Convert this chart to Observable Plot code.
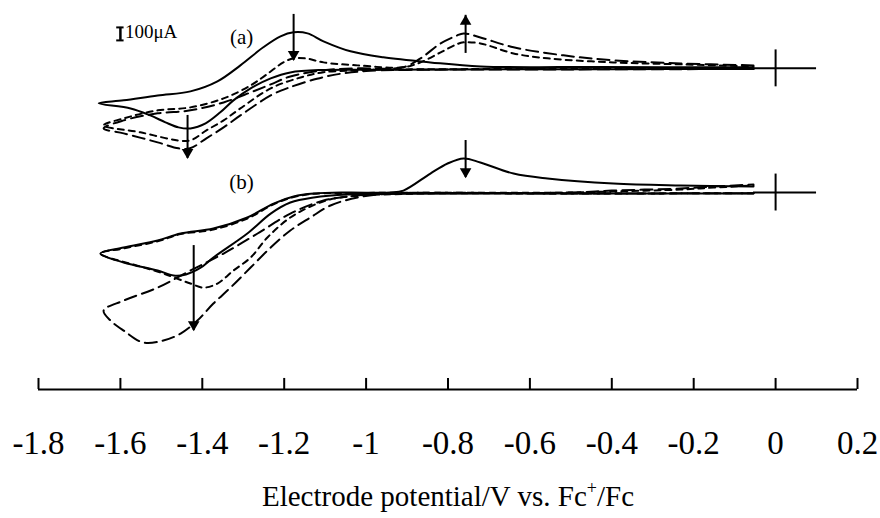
<!DOCTYPE html>
<html>
<head>
<meta charset="utf-8">
<script src="https://cdn.jsdelivr.net/npm/d3@7"></script>
<script src="https://cdn.jsdelivr.net/npm/@observablehq/plot@0.6"></script>
<style>
  body { margin: 0; background: #fff; }
  #chart { width: 880px; height: 518px; }
</style>
</head>
<body>
<div id="chart"></div>
<script>
// ---------- axis / labels ----------
const xTicks = [-1.8, -1.6, -1.4, -1.2, -1.0, -0.8, -0.6, -0.4, -0.2, 0, 0.2];
const xTickLabels = ["-1.8", "-1.6", "-1.4", "-1.2", "-1", "-0.8", "-0.6", "-0.4", "-0.2", "0", "0.2"];
const xTitleParts = ["Electrode potential/V vs. Fc", "+", "/Fc"];
const panelNames = ["(a)", "(b)"];
const panelOffset = { a: 955, b: 0 };   // vertical offset of trace (a), µA
const scaleBarLabel = "100μA";
const scaleBarV = -1.6;
const scaleBarI = [1170, 1270];

// ---------- (a) solid ----------
const aSolidV = [-0.054,-0.4,-0.8,-1.0,-1.104,-1.185,-1.233,-1.282,-1.324,-1.356,-1.392,-1.429,-1.458,-1.49,-1.527,-1.575,-1.653,
                 -1.592,-1.509,-1.429,-1.363,-1.307,-1.251,-1.209,-1.177,-1.143,-1.104,-1.038,-0.958,-0.843,-0.72,-0.43,-0.054];
const aSolidI = [-5,-6,-8,-10,-12,-31,-77,-154,-246,-338,-423,-462,-454,-415,-362,-308,-269,
                 -246,-208,-177,-100,23,162,246,277,269,208,131,85,46,15,10,8];
// ---------- (a) short dash ----------
const aShortV = [-0.054,-0.5,-0.9,-1.021,-1.104,-1.16,-1.233,-1.307,-1.348,-1.39,-1.429,-1.46,-1.551,-1.641,
                 -1.592,-1.509,-1.429,-1.348,-1.282,-1.246,-1.202,-1.177,-1.148,-1.104,-1.021,-0.91,-0.867,-0.818,-0.779,-0.762,-0.721,-0.64,-0.557,-0.396,-0.232,-0.054];
const aShortI = [-3,-5,-8,-15,-30,-70,-154,-308,-400,-477,-554,-554,-492,-439,
                 -385,-323,-300,-231,-131,-54,46,77,77,46,23,8,46,123,185,200,192,115,77,46,31,15];
// ---------- (a) long dash ----------
const aLongV = [-0.054,-0.5,-0.9,-1.0,-1.06,-1.12,-1.19,-1.233,-1.307,-1.348,-1.39,-1.43,-1.458,-1.509,-1.592,-1.641,
                -1.592,-1.509,-1.429,-1.348,-1.282,-1.233,-1.185,-1.104,-1.021,-0.91,-0.867,-0.818,-0.78,-0.762,-0.721,-0.64,-0.518,-0.396,-0.232,-0.054];
const aLongI = [-5,-8,-12,-20,-40,-80,-150,-208,-362,-454,-538,-615,-615,-569,-500,-462,
                -400,-346,-323,-262,-185,-123,-62,-15,0,8,77,192,250,269,238,162,100,62,38,23];

// ---------- (b) solid ----------
const bSolidV = [-0.054,-0.5,-0.9,-1.045,-1.128,-1.185,-1.233,-1.29,-1.373,-1.405,-1.44,-1.47,-1.509,-1.592,-1.649,
                 -1.592,-1.509,-1.453,-1.373,-1.29,-1.226,-1.177,-1.128,-1.045,-0.94,-0.909,-0.843,-0.801,-0.762,-0.721,-0.64,-0.557,-0.396,-0.232,-0.054];
const bSolidI = [-8,-8,-10,-15,-38,-77,-162,-315,-500,-580,-630,-638,-600,-538,-469,
                 -423,-369,-315,-277,-192,-85,-31,-8,0,0,15,146,223,262,231,146,108,69,54,46];
// ---------- (b) short dash ----------
const bShortV = [-0.054,-0.5,-0.9,-1.063,-1.119,-1.185,-1.241,-1.282,-1.324,-1.363,-1.397,-1.429,-1.495,-1.55,-1.649,
                 -1.592,-1.509,-1.453,-1.373,-1.29,-1.226,-1.177,-1.128,-1.0,-0.5,-0.4,-0.232,-0.152,-0.054];
const bShortI = [-5,-8,-10,-38,-85,-192,-346,-500,-600,-700,-731,-700,-623,-570,-469,
                 -430,-375,-320,-285,-200,-90,-35,-10,-3,0,8,23,38,54];
// ---------- (b) long dash ----------
const bLongV = [-0.054,-0.5,-0.94,-1.021,-1.087,-1.136,-1.185,-1.233,-1.282,-1.331,-1.373,-1.412,-1.453,-1.495,-1.544,-1.592,-1.624,-1.641,
                -1.592,-1.509,-1.429,-1.348,-1.265,-1.185,-1.104,-1.021,-0.94,-0.5,-0.4,-0.232,-0.152,-0.054];
const bLongI = [-5,-8,-8,-38,-100,-192,-292,-423,-577,-731,-854,-985,-1085,-1138,-1154,-1062,-985,-908,
                -831,-731,-600,-469,-315,-162,-62,-23,-8,0,15,31,46,62];

// ---------- arrows ----------
const arrowPanel = ["a", "a", "a", "b", "b"];
const arrowV     = [-1.177, -1.436, -0.757, -1.421, -0.757];
const arrowFrom  = [415, -362, 115, -408, 400];
const arrowTo    = [62, -692, 408, -1062, 115];

// ---------- marker crosses at 0 V ----------
const crossPanel = ["a", "b"];
const crossHalf = 142;
const crossX = [-0.054, 0.1];

// ---------- build tables ----------
function series(panel, style, V, I) {
  return V.map((v, i) => ({ panel, style, key: panel + style, V: v, y: I[i] + panelOffset[panel] }));
}
const rows = [
  ...series("a", "solid", aSolidV, aSolidI),
  ...series("a", "short", aShortV, aShortI),
  ...series("a", "long", aLongV, aLongI),
  ...series("b", "solid", bSolidV, bSolidI),
  ...series("b", "short", bShortV, bShortI),
  ...series("b", "long", bLongV, bLongI)
];
const arrows = arrowV.map((v, i) => ({
  V: v,
  y1: arrowFrom[i] + panelOffset[arrowPanel[i]],
  y2: arrowTo[i] + panelOffset[arrowPanel[i]],
  up: arrowTo[i] > arrowFrom[i]
}));
const crosses = crossPanel.map(p => ({ y: panelOffset[p] }));

const yMin = -1515, yMax = 1477;
const lineW = 2;

const svg = Plot.plot({
  width: 880,
  height: 518,
  marginLeft: 38,
  marginRight: 23,
  marginTop: 0,
  marginBottom: 129,
  x: { domain: [-1.8, 0.2], axis: null },
  y: { domain: [yMin, yMax], axis: null },
  style: { fontFamily: "'Liberation Serif', 'Times New Roman', serif", background: "#fff", color: "#000" },
  marks: [
    // bottom axis line and upward ticks
    Plot.ruleY([yMin], { x1: -1.8, x2: 0.2, stroke: "#000", strokeWidth: 2 }),
    Plot.ruleX(xTicks, { x: d => d, y1: yMin, y2: yMin + 85, stroke: "#000", strokeWidth: 2 }),
    Plot.text(xTicks, { x: d => d, text: (d, i) => xTickLabels[i], frameAnchor: "bottom", dy: 54, fontSize: 33, lineAnchor: "middle", fill: "#000" }),
    Plot.text([xTitleParts.join("")], { x: -0.8, frameAnchor: "bottom", dy: 107, fontSize: 29, lineAnchor: "middle", fill: "#000" }),
    // crosses at 0 V
    Plot.ruleY(crosses, { y: "y", x1: crossX[0], x2: crossX[1], stroke: "#000", strokeWidth: 2 }),
    Plot.ruleX(crosses, { x: 0, y1: d => d.y - crossHalf, y2: d => d.y + crossHalf, stroke: "#000", strokeWidth: 2 }),
    // voltammograms
    Plot.line(rows.filter(d => d.style === "solid"), { x: "V", y: "y", z: "key", curve: "catmull-rom", stroke: "#000", strokeWidth: lineW }),
    Plot.line(rows.filter(d => d.style === "short"), { x: "V", y: "y", z: "key", curve: "catmull-rom", stroke: "#000", strokeWidth: lineW, strokeDasharray: "6,5" }),
    Plot.line(rows.filter(d => d.style === "long"), { x: "V", y: "y", z: "key", curve: "catmull-rom", stroke: "#000", strokeWidth: lineW, strokeDasharray: "12,6" }),
    // arrows
    Plot.ruleX(arrows, { x: "V", y1: "y1", y2: "y2", stroke: "#000", strokeWidth: 2 }),
    Plot.dot(arrows.filter(d => !d.up), { x: "V", y: "y2", symbol: "triangle", r: 4.3, rotate: 180, dy: -6, fill: "#000", stroke: "none" }),
    Plot.dot(arrows.filter(d => d.up), { x: "V", y: "y2", symbol: "triangle", r: 4.3, dy: 6, fill: "#000", stroke: "none" }),
    // scale bar
    Plot.ruleX([scaleBarV], { x: d => d, y1: scaleBarI[0], y2: scaleBarI[1], stroke: "#000", strokeWidth: 2.5 }),
    Plot.ruleY(scaleBarI, { y: d => d, x1: scaleBarV - 0.009, x2: scaleBarV + 0.009, stroke: "#000", strokeWidth: 2 }),
    Plot.text([scaleBarLabel], { x: scaleBarV + 0.011, y: (scaleBarI[0] + scaleBarI[1]) / 2 + 15, textAnchor: "start", fontSize: 19, fill: "#000" }),
    // panel labels
    Plot.text(panelNames, { x: -1.304, y: (d, i) => (i === 0 ? 1192 : 80), fontSize: 21, fill: "#000" })
  ]
});

// superscript "+" in the axis title
d3.select(svg).selectAll("text")
  .filter(function () { return this.textContent === xTitleParts.join(""); })
  .each(function () {
    const t = d3.select(this);
    t.text(null);
    t.append("tspan").text(xTitleParts[0]);
    t.append("tspan").attr("dy", -12).attr("font-size", 18).text(xTitleParts[1]);
    t.append("tspan").attr("dy", 12).text(xTitleParts[2]);
  });

document.getElementById("chart").appendChild(svg);
</script>
</body>
</html>
